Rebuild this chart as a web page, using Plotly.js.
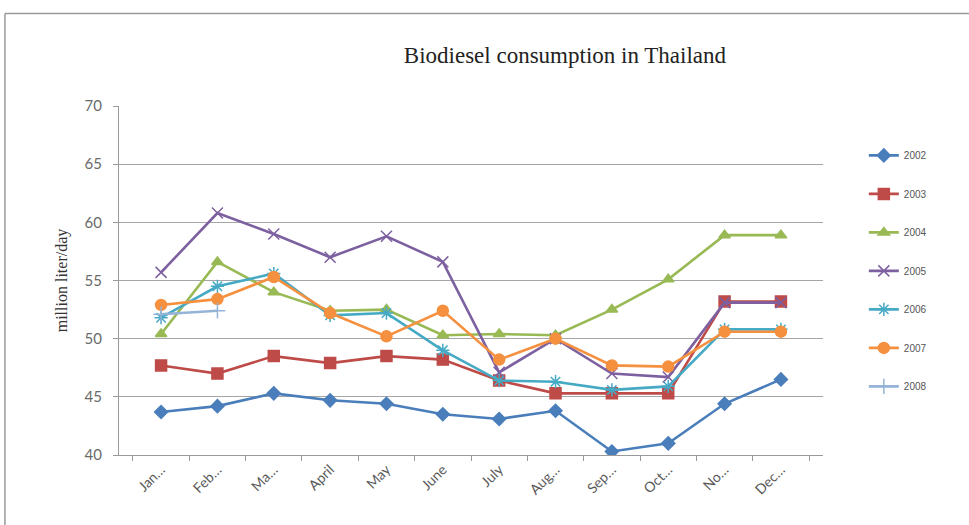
<!DOCTYPE html>
<html>
<head>
<meta charset="utf-8">
<script src="https://cdn.plot.ly/plotly-3.0.1.min.js"></script>
<style>
  html, body { margin: 0; padding: 0; background: #fff; }
  #chart { width: 969px; height: 525px; }
</style>
</head>
<body>
<div id="chart"></div>
<script>
// Monthly biodiesel consumption, million liter/day
const months = ["Jan…", "Feb…", "Ma…", "April", "May", "June", "July", "Aug…", "Sep…", "Oct…", "No…", "Dec…"];

const y2002 = [43.7, 44.2, 45.3, 44.7, 44.4, 43.5, 43.1, 43.8, 40.3, 41.0, 44.4, 46.5];
const y2003 = [47.7, 47.0, 48.5, 47.9, 48.5, 48.2, 46.4, 45.3, 45.3, 45.3, 53.2, 53.2];
const y2004 = [50.4, 56.6, 54.0, 52.4, 52.5, 50.3, 50.4, 50.3, 52.5, 55.1, 58.9, 58.9];
const y2005 = [55.7, 60.8, 59.0, 57.0, 58.8, 56.6, 47.1, 50.0, 47.0, 46.7, 53.1, 53.1];
const y2006 = [51.8, 54.5, 55.6, 52.0, 52.2, 49.0, 46.4, 46.3, 45.6, 45.9, 50.8, 50.8];
const y2007 = [52.9, 53.4, 55.3, 52.2, 50.2, 52.4, 48.2, 50.0, 47.7, 47.6, 50.6, 50.6];
const y2008 = [52.1, 52.4, null, null, null, null, null, null, null, null, null, null];

const seriesNames = ["2002", "2003", "2004", "2005", "2006", "2007", "2008"];

const seriesData = [y2002, y2003, y2004, y2005, y2006, y2007, y2008];
const seriesColors = ["#4a7ebb", "#be4b48", "#98b954", "#7d60a0", "#46aac5", "#f5903f", "#95b3d7"];
const seriesSymbols = ["diamond", "square", "triangle-up", "x-thin-open", "asterisk-open", "circle", "cross-thin-open"];
const seriesSizes = [10, 11, 10, 11, 11, 11, 11];

const traces = seriesData.map((vals, i) => ({
  type: "scatter",
  mode: "lines+markers",
  name: seriesNames[i],
  legendgroup: "g" + i,
  x: months,
  y: vals,
  connectgaps: false,
  line: { color: seriesColors[i], width: 2.6 },
  marker: {
    symbol: seriesSymbols[i],
    size: seriesSizes[i],
    color: seriesColors[i],
    line: { color: seriesColors[i], width: 1.5 }
  }
}));

const layout = {
  width: 969,
  height: 525,
  margin: { l: 119, r: 146, t: 106, b: 70 },
  paper_bgcolor: "#ffffff",
  plot_bgcolor: "#ffffff",
  showlegend: true,
  title: {
    text: "Biodiesel consumption in Thailand",
    font: { family: "Liberation Serif, serif", size: 23, color: "#222" },
    x: 0.583, xanchor: "center",
    y: 0.895, yanchor: "middle"
  },
  xaxis: {
    type: "category",
    showline: true,
    linecolor: "#9a9a9a",
    linewidth: 1,
    ticks: "outside",
    tickson: "boundaries",
    ticklen: 5,
    tickcolor: "#9a9a9a",
    tickangle: -45,
    showgrid: false,
    zeroline: false,
    tickfont: { family: "Lato, Open Sans, sans-serif", size: 14, color: "#595959" }
  },
  yaxis: {
    range: [40, 70],
    dtick: 5,
    showline: true,
    linecolor: "#9a9a9a",
    linewidth: 1,
    ticks: "outside",
    ticklen: 5,
    tickcolor: "#9a9a9a",
    ticklabelstandoff: 8,
    showgrid: true,
    gridcolor: "#a6a6a6",
    gridwidth: 1,
    zeroline: false,
    tickfont: { family: "Lato, Open Sans, sans-serif", size: 15, color: "#6a6a6a" },
    title: {
      text: "million liter/day",
      font: { family: "Liberation Serif, serif", size: 16, color: "#333" },
      standoff: 12
    }
  },
  legend: {
    x: 1.058, xanchor: "left",
    y: 0.90, yanchor: "top",
    font: { family: "Liberation Sans, sans-serif", size: 10, color: "#555" },
    tracegroupgap: 19.5,
    itemwidth: 30,
    bgcolor: "rgba(0,0,0,0)"
  },
  shapes: [
    // outer frame of the figure
    { type: "line", xref: "paper", yref: "paper", x0: -0.162, x1: 1.3, y0: 1.265, y1: 1.265,
      line: { color: "#9a9a9a", width: 1.5 } },
    { type: "line", xref: "paper", yref: "paper", x0: -0.162, x1: -0.162, y0: -0.25, y1: 1.265,
      line: { color: "#9a9a9a", width: 1.5 } }
  ]
};

Plotly.newPlot("chart", traces, layout, { displayModeBar: false, staticPlot: true });
</script>
</body>
</html>
